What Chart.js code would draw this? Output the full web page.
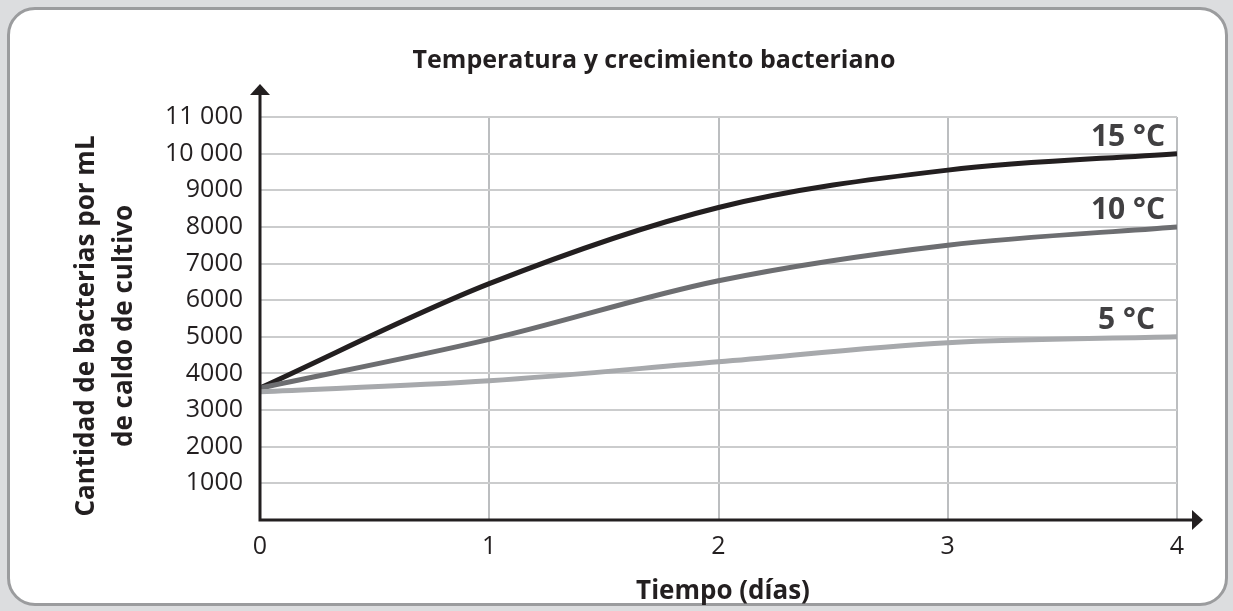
<!DOCTYPE html>
<html>
<head>
<meta charset="utf-8">
<script src="https://cdn.jsdelivr.net/npm/chart.js@4"></script>
<style>
  html, body { margin: 0; padding: 0; background: #dcdddf; }
  #wrap { position: relative; width: 1233px; height: 611px; overflow: hidden; }
  #card { position: absolute; left: 7px; top: 7px; width: 1215px; height: 593px;
          background: #fff; border: 3px solid #9b9c9e; border-radius: 28px; }
  #c { position: absolute; left: 0; top: 0; }
</style>
</head>
<body>
<div id="wrap">
  <div id="card"></div>
  <canvas id="c" width="1233" height="611"></canvas>
</div>
<script>
const chartTitle = 'Temperatura y crecimiento bacteriano';
const xTitle = 'Tiempo (días)';
const yTitleLines = ['Cantidad de bacterias por mL', 'de caldo de cultivo'];
const days = [0, 1, 2, 3, 4];
const xTickLabels = ['0', '1', '2', '3', '4'];
const yTickValues = [1000, 2000, 3000, 4000, 5000, 6000, 7000, 8000, 9000, 10000, 11000];
const yTickLabels = ['1000', '2000', '3000', '4000', '5000', '6000', '7000', '8000', '9000', '10 000', '11 000'];
const seriesNames = ['15 °C', '10 °C', '5 °C'];
const temp15 = [3600, 6450, 8530, 9550, 10000];
const temp10 = [3600, 4930, 6530, 7500, 8000];
const temp5 = [3500, 3800, 4320, 4840, 5000];
const seriesColors = ['#231f20', '#6d6e71', '#a7a9ac'];

const FONT = "'Open Sans', 'Noto Sans', sans-serif";

const decor = {
  id: 'decor',
  afterDraw(chart) {
    const {ctx, chartArea: a, scales: {x, y}} = chart;
    ctx.save();
    // axes
    ctx.strokeStyle = '#231f20';
    ctx.fillStyle = '#231f20';
    ctx.lineWidth = 3;
    ctx.beginPath();
    ctx.moveTo(a.left, a.bottom);
    ctx.lineTo(a.left, a.top - 24);
    ctx.moveTo(a.left - 1.5, a.bottom);
    ctx.lineTo(a.right + 16, a.bottom);
    ctx.stroke();
    // arrow up
    ctx.beginPath();
    ctx.moveTo(a.left, a.top - 33);
    ctx.lineTo(a.left - 10, a.top - 22);
    ctx.lineTo(a.left + 10, a.top - 22);
    ctx.closePath();
    ctx.fill();
    // arrow right
    ctx.beginPath();
    ctx.moveTo(a.right + 26, a.bottom);
    ctx.lineTo(a.right + 15, a.bottom - 10);
    ctx.lineTo(a.right + 15, a.bottom + 10);
    ctx.closePath();
    ctx.fill();

    // chart title
    ctx.font = 'bold 25px ' + FONT;
    ctx.textAlign = 'center';
    ctx.textBaseline = 'alphabetic';
    ctx.fillText(chartTitle, 654, 68);

    // x title
    ctx.font = 'bold 26px ' + FONT;
    ctx.fillText(xTitle, 723, 599);

    // series labels
    ctx.fillStyle = '#414042';
    ctx.font = 'bold 30px ' + FONT;
    ctx.textAlign = 'right';
    ctx.textBaseline = 'alphabetic';
    const xr = x.getPixelForValue(days[days.length - 1]);
    chart.data.datasets.forEach((ds) => {
      const last = ds.data[ds.data.length - 1];
      const yv = y.getPixelForValue(last.y);
      const off = ds.label === '5 °C' ? 22 : 12;
      ctx.fillText(ds.label, xr - off, yv - 8);
    });

    // y title, two lines rotated
    ctx.fillStyle = '#231f20';
    ctx.font = 'bold 26px ' + FONT;
    ctx.textAlign = 'center';
    ctx.textBaseline = 'alphabetic';
    const baselines = [94, 132];
    yTitleLines.forEach((t, i) => {
      ctx.save();
      ctx.translate(baselines[i], 326);
      ctx.rotate(-Math.PI / 2);
      ctx.fillText(t, 0, 0);
      ctx.restore();
    });
    ctx.restore();
  }
};

new Chart(document.getElementById('c'), {
  type: 'line',
  data: {
    datasets: [
      { label: seriesNames[0], data: temp15, borderColor: seriesColors[0] },
      { label: seriesNames[1], data: temp10, borderColor: seriesColors[1] },
      { label: seriesNames[2], data: temp5, borderColor: seriesColors[2] }
    ].map(d => ({ ...d, data: d.data.map((v, i) => ({ x: days[i], y: v })),
                  borderWidth: 5, pointRadius: 0, fill: false,
                  cubicInterpolationMode: 'monotone' })).reverse()
  },
  options: {
    responsive: false,
    animation: false,
    events: [],
    layout: { padding: { left: 0, right: 56, top: 117, bottom: 0 } },
    plugins: {
      legend: { display: false },
      tooltip: { enabled: false },
      title: { display: false }
    },
    scales: {
      x: {
        type: 'linear', min: 0, max: 4,
        afterFit(s) { s.height = 91; },
        afterBuildTicks(s) { s.ticks = days.map(v => ({ value: v })); },
        border: { display: false },
        grid: { color: '#bcbec0', lineWidth: 2, drawTicks: false },
        ticks: {
          color: '#231f20', padding: 12,
          font: { family: FONT, size: 25 },
          callback: (v) => xTickLabels[days.indexOf(v)]
        }
      },
      y: {
        type: 'linear', min: 0, max: 11000,
        afterFit(s) { s.width = 260; },
        afterBuildTicks(s) { s.ticks = yTickValues.map(v => ({ value: v })); },
        border: { display: false },
        grid: { color: '#cbcccd', lineWidth: 2, drawTicks: false },
        ticks: {
          color: '#231f20', padding: 17,
          font: { family: FONT, size: 25 },
          callback: (v) => yTickLabels[yTickValues.indexOf(v)]
        }
      }
    }
  },
  plugins: [decor]
});
</script>
</body>
</html>
